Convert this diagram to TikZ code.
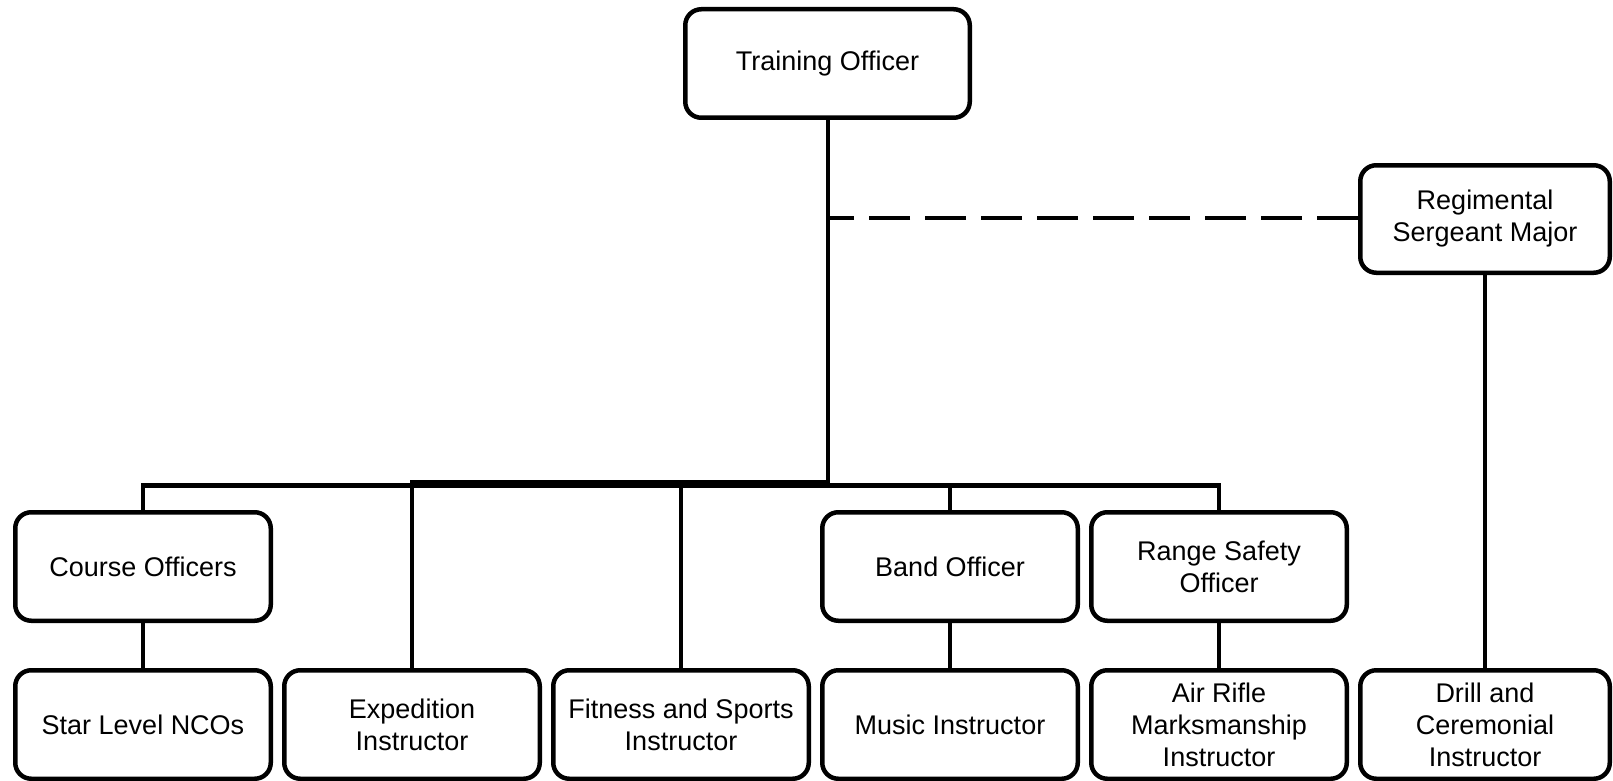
\documentclass[tikz,border=0pt]{standalone}
\usepackage{fontspec}
\setmainfont{Liberation Sans}
\begin{document}
\begin{tikzpicture}[x=1pt,y=-1pt,
  box/.style={draw, line width=4.5pt, rounded corners=16pt, minimum width=255.5pt, minimum height=108.5pt, align=center, inner sep=0pt, font=\fontsize{27}{32}\selectfont},
  conn/.style={line width=4.5pt},
  dashconn/.style={line width=4.5pt, dash pattern=on 41pt off 15pt}]
\useasboundingbox (0,0) rectangle (1613,781);
\node[box, minimum width=284.5pt] (to) at (827.5,63.5) {Training Officer};
\node[box, minimum width=249.5pt, minimum height=107.5pt] (rsm) at (1485,219) {Regimental\\Sergeant Major};
\node[box] (co) at (143,566.5) {Course Officers};
\node[box] (bo) at (950,566.5) {Band Officer};
\node[box] (ro) at (1219,566.5) {Range Safety\\Officer};
\node[box] (sl) at (143,724.5) {Star Level NCOs};
\node[box] (ei) at (412,724.5) {Expedition\\Instructor};
\node[box] (fi) at (681,724.5) {Fitness and Sports\\Instructor};
\node[box] (mi) at (950,724.5) {Music Instructor};
\node[box] (ai) at (1219,724.5) {Air Rifle\\Marksmanship\\Instructor};
\node[box, minimum width=249.5pt] (di) at (1485,724.5) {Drill and\\Ceremonial\\Instructor};
\coordinate (bus) at (828,485.5);
\coordinate (bus2) at (828,482.5);
\coordinate (dj) at (828,218);
% main trunk and bus
\draw[conn] (to.south -| bus) -- (bus);
\draw[conn] (co.north) |- (bus) -| (ro.north);
\draw[conn] (bo.north) -- (bo.north |- bus);
\draw[conn] (fi.north) -- (fi.north |- bus);
\draw[conn] (bus2) -| (ei.north);
% row 1 to row 2
\draw[conn] (co.south) -- (sl.north);
\draw[conn] (bo.south) -- (mi.north);
\draw[conn] (ro.south) -- (ai.north);
\draw[conn] (rsm.south) -- (di.north);
% dashed link
\draw[dashconn] (rsm.west |- dj) -- (dj);
\end{tikzpicture}
\end{document}
